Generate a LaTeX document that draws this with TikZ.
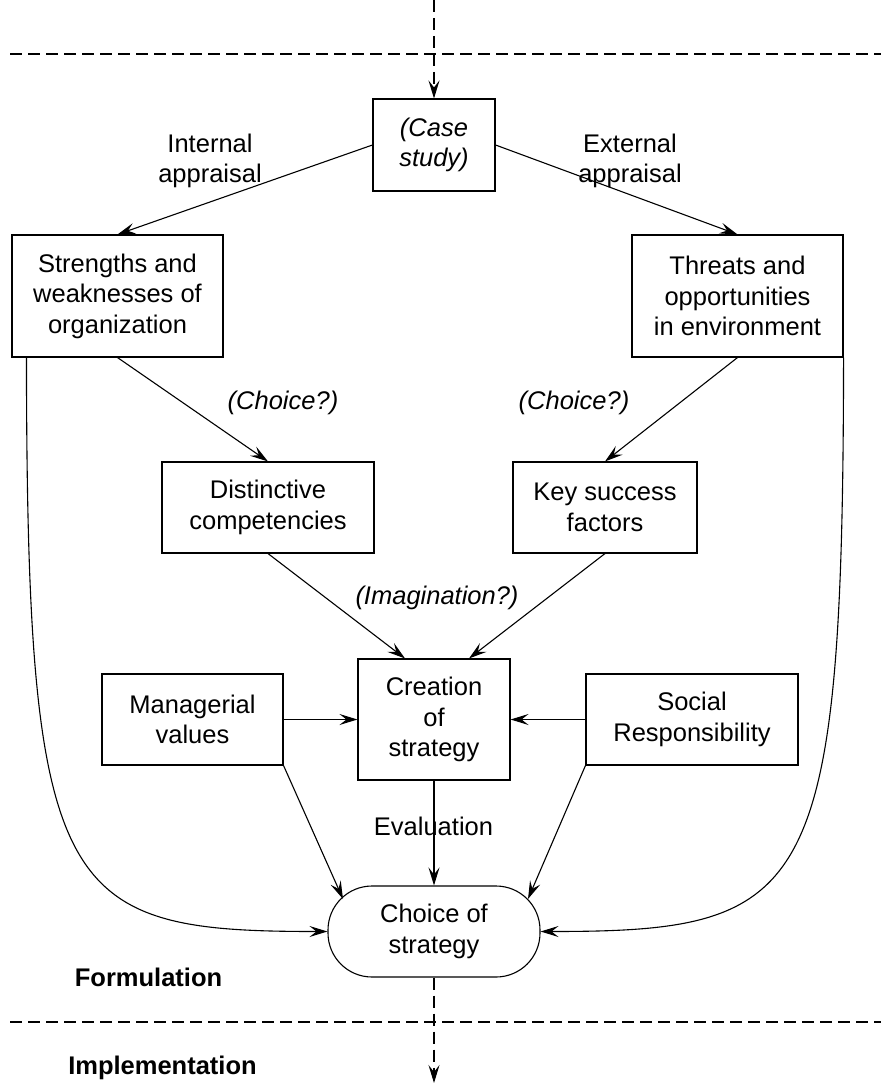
\documentclass[tikz,border=0pt]{standalone}
\usepackage{fontspec}
\setmainfont{Liberation Sans}
\usetikzlibrary{arrows.meta,calc}
\begin{document}
\begin{tikzpicture}[x=1pt,y=-1pt,
  line width=1.1pt,
  txt/.style={font=\fontsize{25.5}{30.5}\selectfont, align=center, inner sep=0pt},
  itx/.style={font=\fontsize{25.5}{30.5}\selectfont\itshape, align=center, inner sep=0pt},
  bfx/.style={font=\fontsize{25.5}{30.5}\selectfont\bfseries, align=center, inner sep=0pt},
  box/.style={txt, draw, rectangle},
  arr/.style={-{Stealth[length=18pt,width=11pt,inset=7pt]}},
  dsh/.style={dash pattern=on 12pt off 6pt},
  ]
\useasboundingbox (0,0) rectangle (881,1083);

% dashed separators
\coordinate (tl) at (10,54);
\coordinate (tr) at (881,54);
\coordinate (bl) at (10,1022);
\coordinate (br) at (881,1022);
\draw[dsh] (tl) -- (tr);
\draw[dsh] (bl) -- (br);

% boxes
\node[box, minimum width=122, minimum height=92] (case) at (434,145) {\itshape (Case\\\itshape study)};
\node[box, minimum width=211, minimum height=122] (str) at (117.5,296) {Strengths and\\weaknesses of\\organization};
\node[box, minimum width=211, minimum height=122] (thr) at (737.5,296) {Threats and\\opportunities\\in environment};
\node[box, minimum width=212, minimum height=91] (dist) at (268,507.5) {Distinctive\\competencies};
\node[box, minimum width=184, minimum height=91] (key) at (605,507.5) {Key success\\factors};
\node[box, minimum width=152, minimum height=121] (cr) at (434,719.5) {Creation\\of\\strategy};
\node[box, minimum width=181, minimum height=91] (man) at (192.5,719.5) {Managerial\\values};
\node[box, minimum width=212, minimum height=91] (soc) at (692,719.5) {Social\\Responsibility};
\node[box, rounded corners=44pt, minimum width=212, minimum height=91] (ch) at (434,931.5) {Choice of\\strategy};

% labels
\node[txt] (lint) at (210,161) {Internal\\appraisal};
\node[txt] (lext) at (630,161) {External\\appraisal};
\node[itx] (lc1) at (283,403) {(Choice?)};
\node[itx] (lc2) at (574,403) {(Choice?)};
\node[itx] (lim) at (437,598) {(Imagination?)};
\node[txt] (lev) at (433.5,826) {Evaluation};
\node[bfx] (lfo) at (148.5,977) {Formulation};
\node[bfx] (lim2) at (162.5,1068) {Implementation};

% connectors
\coordinate (topin) at (434,0);
\coordinate (botout) at (434,1083);
\draw[dsh, arr] (topin) -- (case.north);
\draw[dsh, arr] (ch.south) -- (botout);

\draw[arr] (case.west) -- (str.north);
\draw[arr] (case.east) -- (thr.north);
\draw[arr] (str.south) -- (dist.north);
\draw[arr] (thr.south) -- (key.north);
\draw[arr] (dist.south) -- ($(cr.north)+(-29,0)$);
\draw[arr] (key.south) -- ($(cr.north)+(35,0)$);
\draw[arr] (man.east) -- (cr.west);
\draw[arr] (soc.west) -- (cr.east);
\draw[arr] (cr.south) -- (ch.north);
\draw[arr] (man.south east) -- ($(ch.center)+(-91,-32.5)$);
\draw[arr] (soc.south west) -- ($(ch.center)+(94,-32.5)$);
\draw[arr] ($(str.south west)+(15,0)$) .. controls (27,900) and (60,931.5) .. (ch.west);
\draw[arr] (thr.south east) .. controls (843,900) and (810,931.5) .. (ch.east);
\end{tikzpicture}
\end{document}
